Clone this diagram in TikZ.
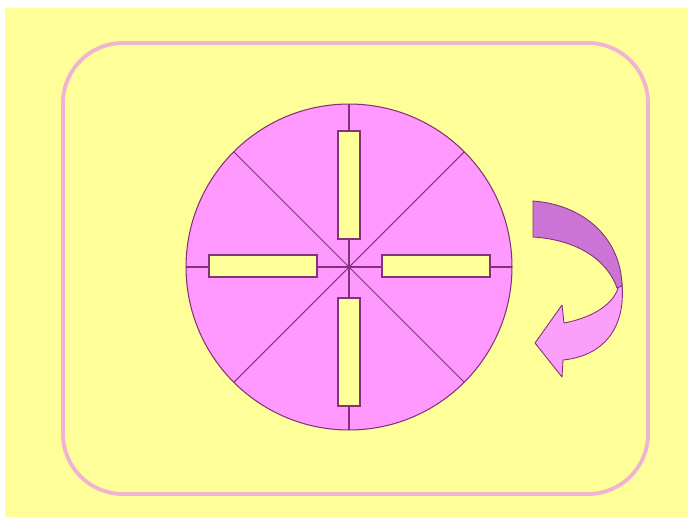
\documentclass[tikz,border=0pt]{standalone}
\usetikzlibrary{positioning}

\definecolor{paleyellow}{RGB}{255,255,153}
\definecolor{framepink}{RGB}{240,180,210}
\definecolor{wheelpink}{RGB}{255,153,255}
\definecolor{rimpurple}{RGB}{130,50,120}
\definecolor{arrowdark}{RGB}{204,115,214}
\definecolor{arrowlight}{RGB}{250,160,250}

\begin{document}
\begin{tikzpicture}[
    x=0.02cm, y=-0.02cm,
    frame/.style={draw=framepink, line width=2.2pt, rounded corners=1.2cm},
    wheel/.style={circle, draw=rimpurple, fill=wheelpink, minimum size=6.52cm, inner sep=0pt, outer sep=0pt, line width=0.6pt},
    spoke/.style={draw=rimpurple, line width=0.6pt},
    slot/.style={rectangle, draw=rimpurple, fill=paleyellow, inner sep=0pt, outer sep=0pt, line width=0.6pt},
    turn/.style={draw=rimpurple, line width=0.5pt, line join=round}
]

% Background
\useasboundingbox (0,0) rectangle (688,517);
\fill[white] (0,0) rectangle (688,517);
\fill[paleyellow] (5,8) rectangle (688,517);
\draw[frame] (63,43) rectangle (648,494);

% Wheel with spokes
\node[wheel] (wheel) at (349,267) {};
\foreach \a in {0,45,...,315} {
    \draw[spoke] (wheel.center) -- (wheel.\a);
}

% Slots
\foreach \n/\x/\y/\w/\h in {top/349/185/0.44/2.16, bottom/349/352/0.44/2.16,
                            left/263/266/2.16/0.44, right/436/266/2.16/0.44} {
    \node[slot, minimum width=\w cm, minimum height=\h cm] (slot\n) at (\x,\y) {};
}

% Turning arrow
\filldraw[turn, fill=arrowlight] (622,283) .. controls (626,330) and (602,356) .. (563,360)
    -- (562,377) -- (535,343) -- (562,305) -- (564,323)
    .. controls (596,317) and (614,302) .. (618,288) -- cycle;
\filldraw[turn, fill=arrowdark] (533,201) .. controls (586,205) and (621,240) .. (622,286)
    -- (617,288) .. controls (608,262) and (580,240) .. (533,237) -- cycle;

\end{tikzpicture}
\end{document}
